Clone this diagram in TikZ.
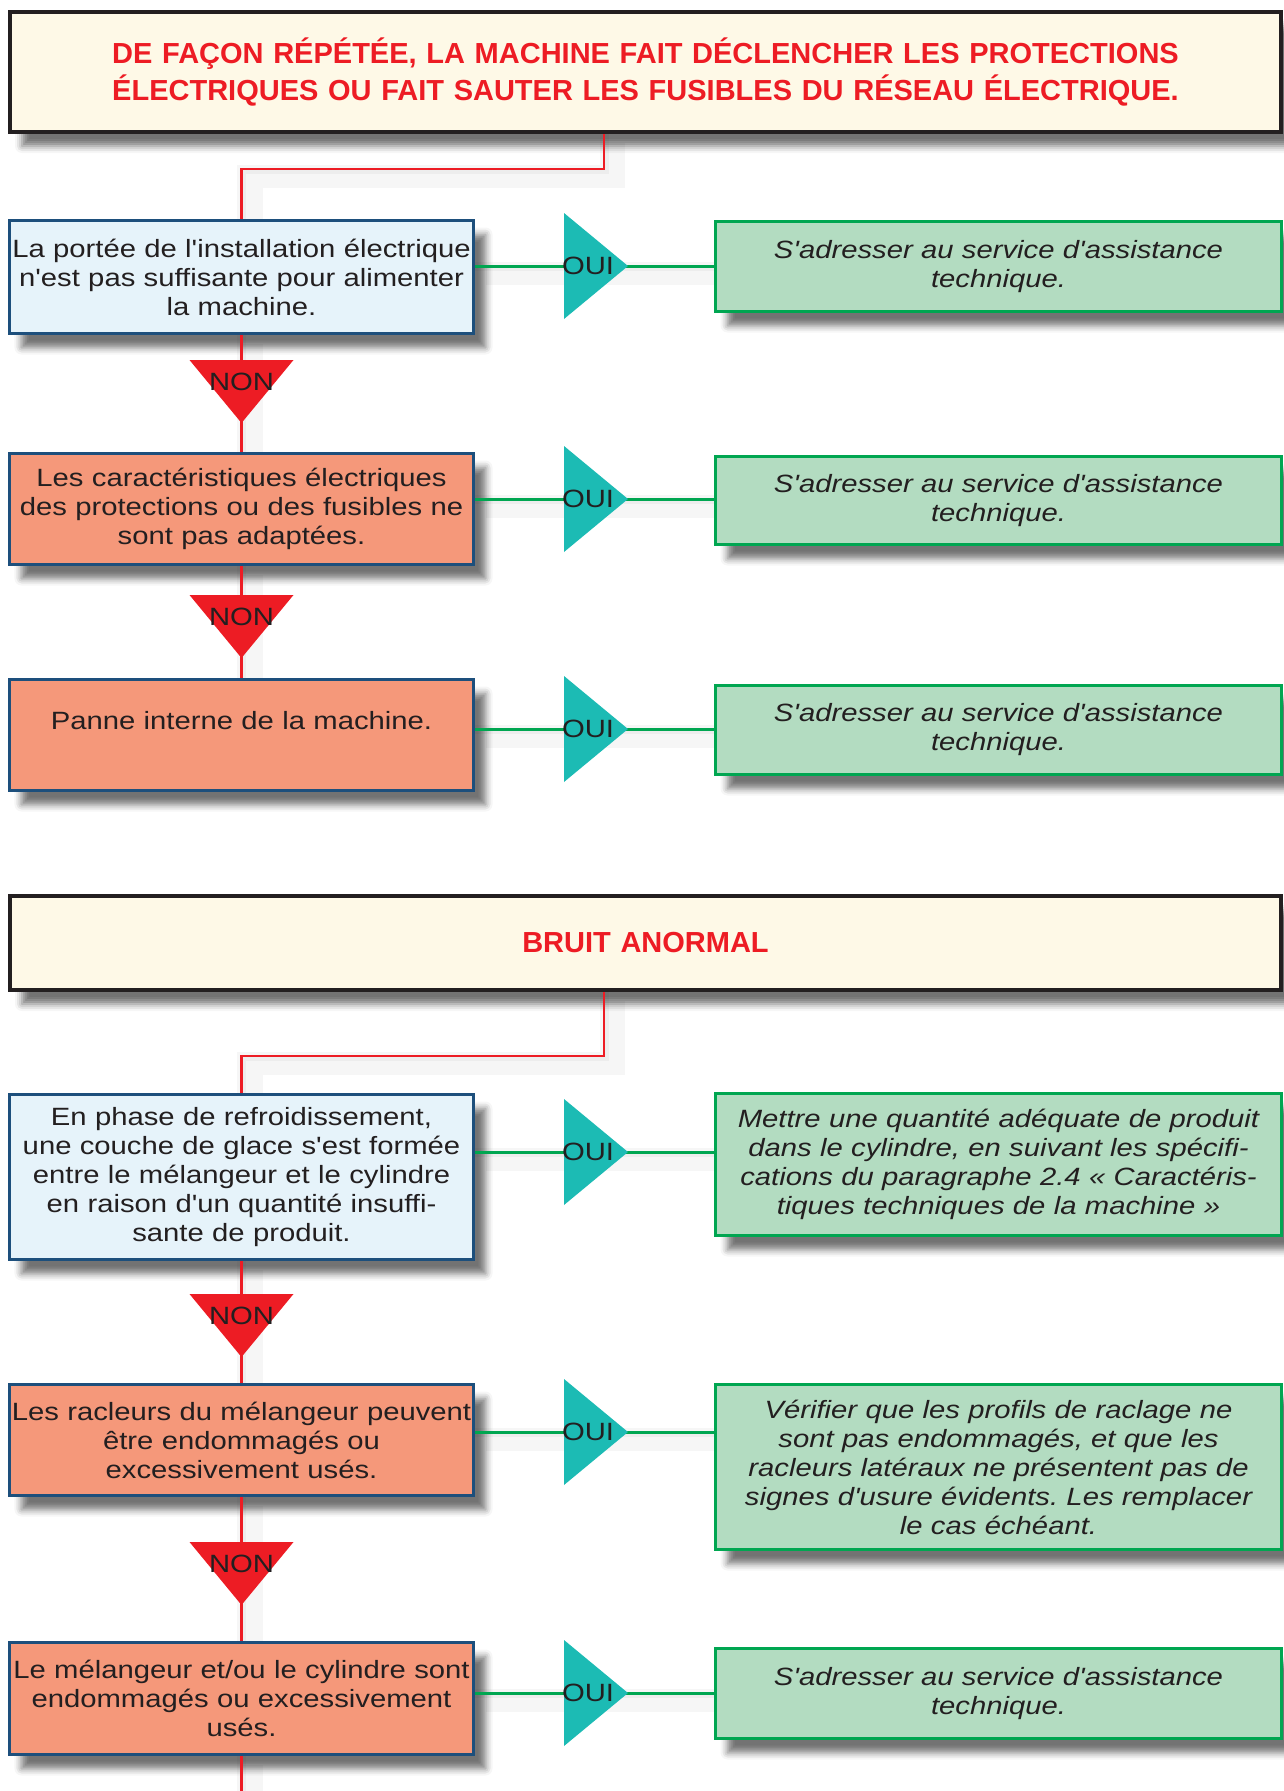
\documentclass[tikz,border=0pt]{standalone}
\usepackage{fontspec}
\setmainfont{Liberation Sans}[Ligatures=TeXOff]
\newfontfamily\boitefont{Liberation Sans}[FakeStretch=1.17,Ligatures=TeXOff]
\newfontfamily\repfont{Liberation Sans}[FakeStretch=1.17,Ligatures=TeXOff]
\frenchspacing
\usepackage{tikz}
\usetikzlibrary{positioning,calc,backgrounds,shadows.blur}
\definecolor{creme}{HTML}{FEF9E7}
\definecolor{rougeT}{HTML}{ED1C24}
\definecolor{bleuF}{HTML}{1D4F7C}
\definecolor{bleuC}{HTML}{E6F3FA}
\definecolor{saumon}{HTML}{F5987A}
\definecolor{vertF}{HTML}{00A651}
\definecolor{vertC}{HTML}{B3DCC1}
\definecolor{turq}{HTML}{1CBBB4}
\definecolor{encre}{HTML}{231F20}
\tikzset{
  ombrage/.style={blur shadow={shadow xshift=12pt,shadow yshift=-14pt,shadow blur radius=7pt,shadow opacity=55}},
  titre/.style={draw=encre,line width=4pt,fill=creme,text=rougeT,font=\bfseries\fontsize{29}{37}\selectfont,align=center,text width=1271pt,inner sep=0pt,ombrage},
  cause/.style={draw=bleuF,line width=3pt,text=encre,align=center,text width=464pt,inner sep=0pt,font=\boitefont\fontsize{25}{29}\selectfont,ombrage},
  reponse/.style={draw=vertF,line width=3pt,fill=vertC,text=encre,align=center,text width=566pt,inner sep=0pt,font=\repfont\itshape\fontsize{25}{29}\selectfont,ombrage},
  etiq/.style={inner sep=0pt,text=encre,font=\boitefont\fontsize{25}{29}\selectfont},
  lien/.style={draw=rougeT,line width=2.5pt},
  vert/.style={draw=vertF,line width=3pt},
  ombre/.style={draw=black,line width=20pt,opacity=.035,transform canvas={shift={(11pt,-9pt)}},
    preaction={draw=black,line width=9pt,opacity=.035}},
}
\begin{document}
\begin{tikzpicture}[x=1pt,y=-1pt]
\useasboundingbox (0,0) rectangle (1283,1791);
\node[titre,minimum height=120pt] (h1) at (645.5,72) {DE FAÇON RÉPÉTÉE, LA MACHINE FAIT DÉCLENCHER LES PROTECTIONS\\ÉLECTRIQUES OU FAIT SAUTER LES FUSIBLES DU RÉSEAU ÉLECTRIQUE.};
\node[cause,fill=bleuC,minimum height=113pt] (b1) at (241.5,277) {La portée de l'installation électrique\\n'est pas suffisante pour alimenter\\la machine.};
\node[cause,fill=saumon,minimum height=111pt] (b2) at (241.5,509) {Les caractéristiques électriques\\des protections ou des fusibles ne\\sont pas adaptées.};
\node[cause,fill=saumon,minimum height=111pt] (b3) at (241.5,735) {Panne interne de la machine.\\~};
\node[reponse,minimum height=90pt] (a1) at (998.5,266.5) {S'adresser au service d'assistance\\technique.};
\node[reponse,minimum height=88pt] (a2) at (998.5,500.5) {S'adresser au service d'assistance\\technique.};
\node[reponse,minimum height=89pt] (a3) at (998.5,730) {S'adresser au service d'assistance\\technique.};
\node[titre,minimum height=94pt] (h2) at (645.5,943) {BRUIT ANORMAL};
\node[cause,fill=bleuC,minimum height=165pt] (b4) at (241.5,1177) {En phase de refroidissement,\\une couche de glace s'est formée\\entre le mélangeur et le cylindre\\en raison d'un quantité insuffi-\\sante de produit.};
\node[cause,fill=saumon,minimum height=111pt] (b5) at (241.5,1440) {Les racleurs du mélangeur peuvent\\être endommagés ou\\excessivement usés.};
\node[cause,fill=saumon,minimum height=112pt] (b6) at (241.5,1698.5) {Le mélangeur et/ou le cylindre sont\\endommagés ou excessivement\\usés.};
\node[reponse,minimum height=142pt] (a4) at (998.5,1164.5) {Mettre une quantité adéquate de produit\\dans le cylindre, en suivant les spécifi-\\cations du paragraphe 2.4 « Caractéris-\\tiques techniques de la machine »};
\node[reponse,minimum height=165pt] (a5) at (998.5,1467) {Vérifier que les profils de raclage ne\\sont pas endommagés, et que les\\racleurs latéraux ne présentent pas de\\signes d'usure évidents. Les remplacer\\le cas échéant.};
\node[reponse,minimum height=90pt] (a6) at (998.5,1693.5) {S'adresser au service d'assistance\\technique.};
\coordinate (c1) at (604,169);
\coordinate (c2) at (604,1056);
\coordinate (fin) at (241.5,1791);
\foreach \n/\y in {1/266,2/499,3/729,4/1152,5/1432,6/1693} \coordinate (o\n) at (628,\y);
\foreach \n/\y in {1/360,2/595,3/1294,4/1542} \coordinate (n\n) at (241.5,\y+63);
\begin{scope}[on background layer]
\draw[ombre] (h1.south -| c1) -- (c1) -| (b1.north);
\draw[ombre] (h2.south -| c2) -- (c2) -| (b4.north);
\foreach \a/\b in {b1/b2,b2/b3,b4/b5,b5/b6} \draw[ombre] (\a.south) -- (\b.north);
\draw[ombre] (b6.south) -- (fin);
\foreach \n in {1,...,6} \draw[ombre] (b\n.east |- o\n) -- (a\n.west |- o\n);
\end{scope}
\draw[lien] (h1.south -| c1) -- (c1) -| (b1.north);
\draw[lien] (h2.south -| c2) -- (c2) -| (b4.north);
\foreach \a/\b in {b1/b2,b2/b3,b4/b5,b5/b6} \draw[lien] (\a.south) -- (\b.north);
\draw[lien] (b6.south) -- (fin);
\foreach \n in {1,...,6} \draw[vert] (b\n.east |- o\n) -- (a\n.west |- o\n);
\foreach \n in {1,...,6} {
  \fill[turq] (o\n) -- ++(-64,-53) -- ++(0,106) -- cycle;
  \node[etiq] (oui\n) at ($(o\n)+(-40,0)$) {OUI};
}
\foreach \n in {1,...,4} {
  \fill[rougeT] (n\n) -- ++(-52,-63) -- ++(104,0) -- cycle;
  \node[etiq] (non\n) at ($(n\n)+(0,-41)$) {NON};
}
\end{tikzpicture}
\end{document}
